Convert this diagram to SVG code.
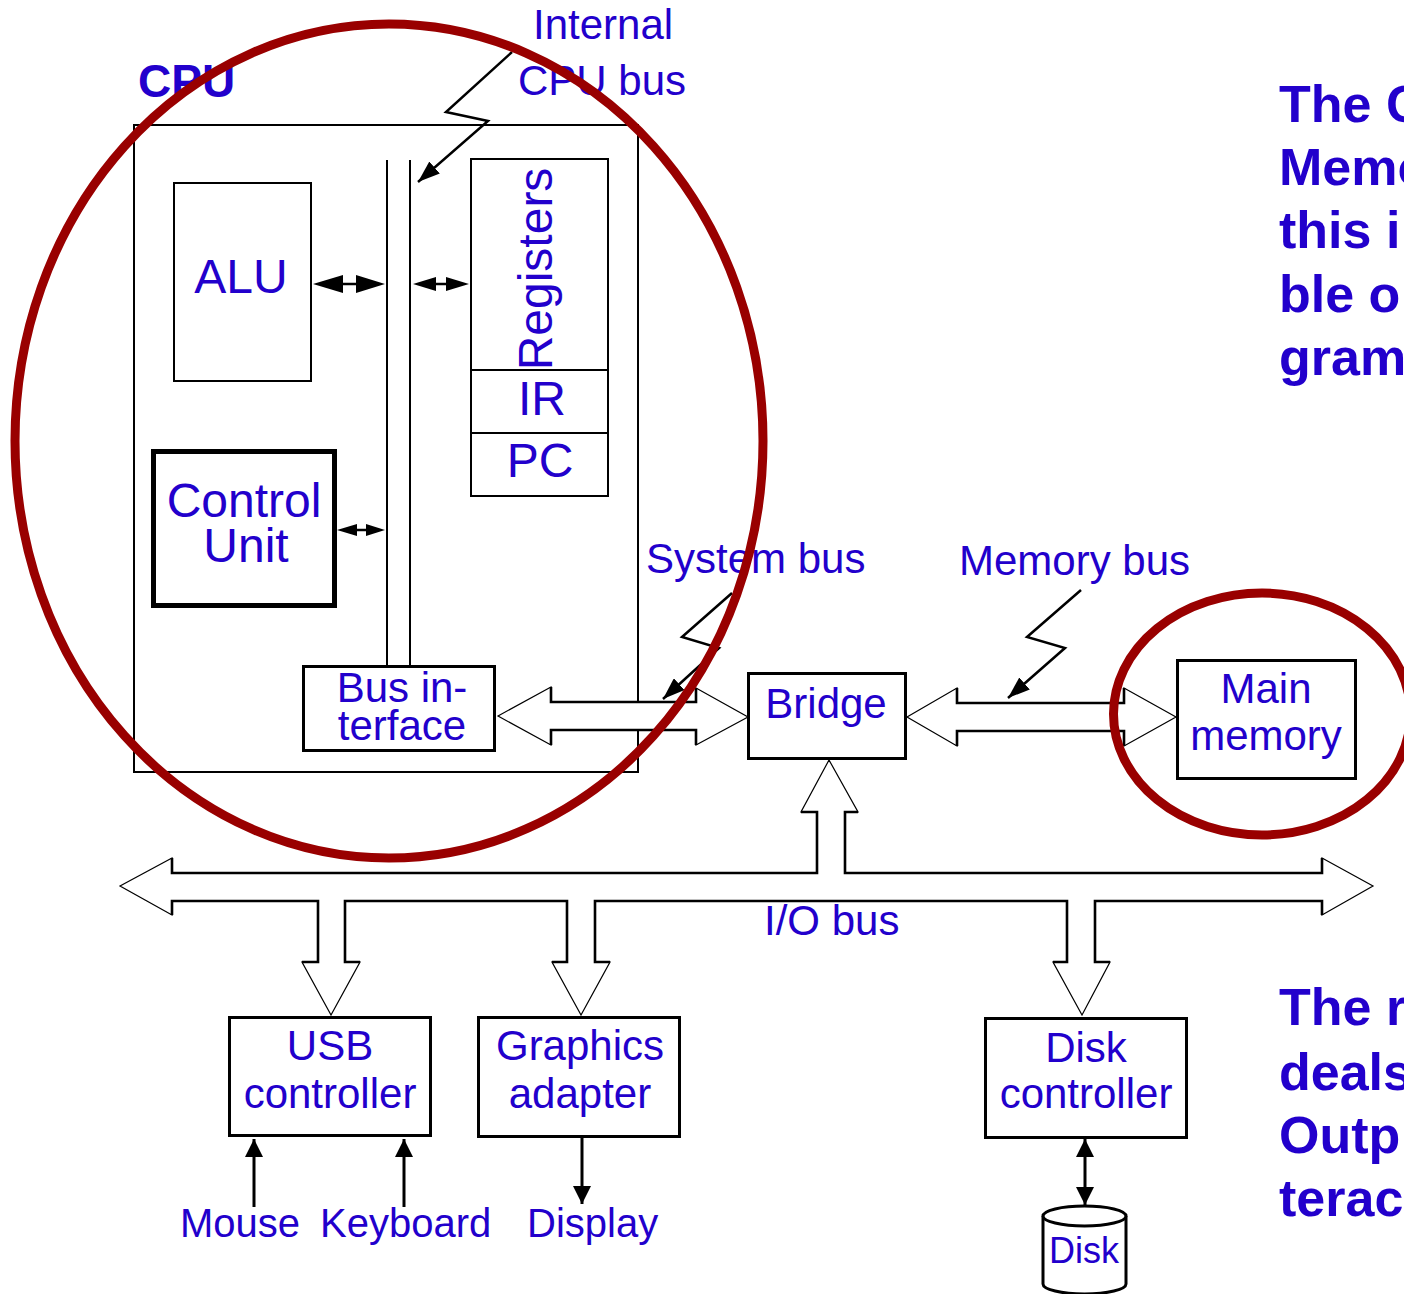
<svg xmlns="http://www.w3.org/2000/svg" width="1404" height="1294" viewBox="0 0 1404 1294">
<defs>
<style>
.t{font-family:"Liberation Sans",Arial,sans-serif;fill:#2200CC;font-size:42px}
.ts{font-family:"Liberation Sans",Arial,sans-serif;fill:#2200CC;font-size:40px}
.tl{font-family:"Liberation Sans",Arial,sans-serif;fill:#2200CC;font-size:48px}
.tb{font-family:"Liberation Sans",Arial,sans-serif;fill:#2200CC;font-size:52px;font-weight:bold}
.c{text-anchor:middle}
.box{fill:#fff;stroke:#000;stroke-width:3}
.thin{fill:none;stroke:#000;stroke-width:2}
.bus{fill:#fff;stroke:#000;stroke-width:1.2;stroke-linejoin:miter}
.shaft{fill:none;stroke:#000;stroke-width:2.6}
.ptr{fill:none;stroke:#000;stroke-width:2.5;marker-end:url(#ah)}
.ring{fill:none;stroke:#990000;stroke-width:9}
</style>
<marker id="ah" viewBox="0 0 22 16" refX="22" refY="8" markerWidth="22" markerHeight="16" markerUnits="userSpaceOnUse" orient="auto"><path d="M0,0 L22,8 L0,16 z" fill="#000"/></marker>
<marker id="ah2" viewBox="0 0 18 18" refX="18" refY="9" markerWidth="18" markerHeight="18" markerUnits="userSpaceOnUse" orient="auto-start-reverse"><path d="M0,0 L18,9 L0,18 z" fill="#000"/></marker>
</defs>
<rect width="1404" height="1294" fill="#fff"/>

<g id="cpu">
<rect x="134" y="125" width="504" height="647" class="thin"/>
<text x="138" y="97" class="t" style="font-size:46px;font-weight:bold">CPU</text>
</g>
<g id="alu">
<rect x="174" y="183" width="137" height="198" class="thin"/>
<text x="241" y="293" class="tl c">ALU</text>
</g>
<g id="registers">
<rect x="471" y="159" width="137" height="337" class="thin"/>
<line x1="471" y1="370" x2="608" y2="370" class="thin"/>
<line x1="471" y1="433" x2="608" y2="433" class="thin"/>
<text transform="translate(552,269) rotate(-90)" class="tl c">Registers</text>
<text x="542" y="415" class="tl c">IR</text>
<text x="540" y="477" class="tl c">PC</text>
</g>
<g id="control-unit">
<rect x="153.5" y="451.5" width="181" height="154" fill="#fff" stroke="#000" stroke-width="5"/>
<text x="244" y="517" class="tl c">Control</text>
<text x="246" y="562" class="tl c">Unit</text>
</g>
<g id="bus-interface">
<rect x="303.5" y="666.5" width="191" height="84" class="box"/>
<text x="402" y="702" class="t c">Bus in-</text>
<text x="402" y="740" class="t c">terface</text>
</g>
<g id="bridge">
<rect x="748.5" y="673.5" width="157" height="85" class="box"/>
<text x="826" y="718" class="t c">Bridge</text>
</g>
<g id="main-memory">
<rect x="1177.5" y="660.5" width="178" height="118" class="box"/>
<text x="1266" y="703" class="t c">Main</text>
<text x="1266" y="750" class="t c">memory</text>
</g>
<g id="usb-controller">
<rect x="229.5" y="1017.5" width="201" height="118" class="box"/>
<text x="330" y="1060" class="t c">USB</text>
<text x="330" y="1108" class="t c">controller</text>
</g>
<g id="graphics-adapter">
<rect x="478.5" y="1017.5" width="201" height="119" class="box"/>
<text x="580" y="1060" class="t c">Graphics</text>
<text x="580" y="1108" class="t c">adapter</text>
</g>
<g id="disk-controller">
<rect x="985.5" y="1018.5" width="201" height="119" class="box"/>
<text x="1086" y="1062" class="t c">Disk</text>
<text x="1086" y="1108" class="t c">controller</text>
</g>
<g id="disk">
<path d="M1043,1216 L1043,1284 A41.5,10 0 0 0 1126,1284 L1126,1216" fill="#fff" stroke="#000" stroke-width="3"/>
<ellipse cx="1084.5" cy="1216" rx="41.5" ry="10" fill="#fff" stroke="#000" stroke-width="3"/>
<text x="1084" y="1263" class="t c" style="font-size:36px">Disk</text>
</g>
<g id="labels">
<text x="533" y="39" class="t">Internal</text>
<text x="518" y="95" class="t">CPU bus</text>
<text x="646" y="573" class="t">System bus</text>
<text x="959" y="575" class="t">Memory bus</text>
<text x="764" y="935" class="t">I/O bus</text>
<text x="180" y="1237" class="ts">Mouse</text>
<text x="320" y="1237" class="ts">Keyboard</text>
<text x="527" y="1237" class="ts">Display</text>
</g>
<g id="side-text">
<text x="1279" y="122" class="tb">The C</text>
<text x="1279" y="185" class="tb">Memo</text>
<text x="1279" y="248" class="tb">this i</text>
<text x="1279" y="312" class="tb">ble o</text>
<text x="1279" y="375" class="tb">gram</text>
<text x="1279" y="1025" class="tb">The r</text>
<text x="1279" y="1090" class="tb">deals</text>
<text x="1279" y="1153" class="tb">Outp</text>
<text x="1279" y="1216" class="tb">terac</text>
</g>

<g id="connectors">
<line x1="387" y1="160" x2="387" y2="666" class="thin"/>
<line x1="410" y1="160" x2="410" y2="666" class="thin"/>
<line x1="330" y1="284" x2="370" y2="284" stroke="#000" stroke-width="2.5"/>
<polygon points="313,284 343,275 343,293" fill="#000"/>
<polygon points="385,284 356,275 356,293" fill="#000"/>
<line x1="425" y1="284" x2="458" y2="284" stroke="#000" stroke-width="2.5"/>
<polygon points="413,284 436,277 436,291" fill="#000"/>
<polygon points="469,284 446,277 446,291" fill="#000"/>
<line x1="345" y1="530" x2="377" y2="530" stroke="#000" stroke-width="2.5"/>
<polygon points="337,530 357,524 357,536" fill="#000"/>
<polygon points="385,530 366,524 366,536" fill="#000"/>
<polyline points="512,52 446,112 488,121 418,182" class="ptr"/>
<polyline points="732,593 682,637 719,648 663,699" class="ptr"/>
<polyline points="1081,590 1027,637 1065,648 1008,698" class="ptr"/>
<polygon points="498,716 551,687 551,702 696,702 696,688 748,717 696,745 696,730 551,730 551,745" class="bus"/>
<path d="M551,687 V702 H696 V688 M551,745 V730 H696 V745" class="shaft"/>
<polygon points="907,717 957,688 957,703 1124,703 1124,688 1176,717 1124,746 1124,731 957,731 957,746" class="bus"/>
<path d="M957,688 V703 H1124 V688 M957,746 V731 H1124 V746" class="shaft"/>
<path d="M172,873 L817,873 L817,812 L801,812 L829,760 L858,812 L845,812 L845,873 L1322,873 L1322,858 L1373,886 L1322,915 L1322,901 L1095,901 L1095,962 L1110,962 L1082,1015 L1053,962 L1067,962 L1067,901 L595,901 L595,962 L610,962 L581,1015 L552,962 L567,962 L567,901 L345,901 L345,962 L360,962 L331,1015 L302,962 L318,962 L318,901 L172,901 L172,915 L120,886 L172,858 Z" class="bus"/>
<path d="M172,858 V873 H817 V812 H801 M858,812 H845 V873 H1322 V858 M1322,915 V901 H1095 V962 H1110 M1053,962 H1067 V901 H595 V962 H610 M552,962 H567 V901 H345 V962 H360 M302,962 H318 V901 H172 V915" class="shaft"/>
<line x1="254" y1="1207" x2="254" y2="1139" stroke="#000" stroke-width="3" marker-end="url(#ah2)"/>
<line x1="404" y1="1207" x2="404" y2="1139" stroke="#000" stroke-width="3" marker-end="url(#ah2)"/>
<line x1="582" y1="1138" x2="582" y2="1204" stroke="#000" stroke-width="3" marker-end="url(#ah2)"/>
<line x1="1085" y1="1139" x2="1085" y2="1205" stroke="#000" stroke-width="3" marker-start="url(#ah2)" marker-end="url(#ah2)"/>
</g>

<g id="highlights">
<ellipse cx="389" cy="441" rx="374" ry="417" class="ring"/>
<ellipse cx="1262" cy="714" rx="148.5" ry="121" class="ring"/>
</g>
</svg>
